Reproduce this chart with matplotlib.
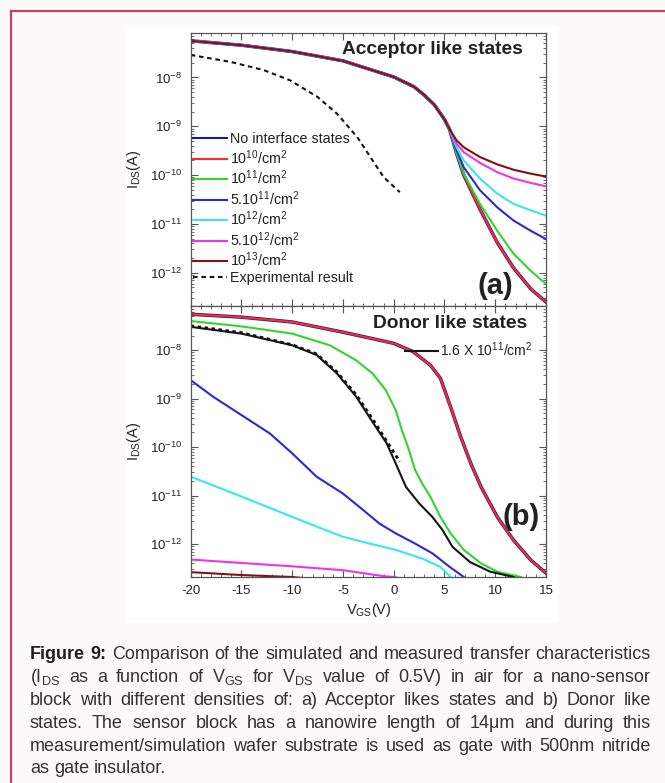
import numpy as np
import matplotlib
matplotlib.use('Agg')
import matplotlib.pyplot as plt
from matplotlib import font_manager
from matplotlib.lines import Line2D
from matplotlib.patches import Rectangle
from matplotlib.ticker import MultipleLocator, LogLocator, NullFormatter

# ---------------- data (log10 of I_DS in A) ----------------
# (a) acceptor-like states: common part, then individual tails
vgs_a_common = [-20, -15, -10, -5, 0, 2, 3, 4, 5, 5.5]
log_a_common = [-7.25, -7.34, -7.47, -7.66, -7.99, -8.19, -8.36, -8.56, -8.86, -9.06]
vgs_a_tail = [6.2, 6.9, 8.5, 10.2, 11.8, 13.5, 15]
log_a_none = [-9.56, -10.00, -10.70, -11.38, -11.90, -12.33, -12.60]
log_a_1e10 = [-9.56, -10.00, -10.70, -11.38, -11.90, -12.33, -12.60]
log_a_1e11 = [-9.55, -9.97, -10.59, -11.14, -11.61, -11.96, -12.23]
log_a_5e11 = [-9.49, -9.84, -10.31, -10.66, -10.93, -11.14, -11.31]
log_a_1e12 = [-9.43, -9.70, -10.07, -10.38, -10.59, -10.72, -10.83]
log_a_5e12 = [-9.36, -9.53, -9.75, -9.94, -10.07, -10.16, -10.23]
log_a_1e13 = [-9.29, -9.43, -9.63, -9.78, -9.89, -9.97, -10.03]
vgs_a_exp = [-20, -16.1, -12.8, -10.2, -7.5, -5.6, -3.6, -2.3, -1.0, 0.6]
log_a_exp = [-7.54, -7.68, -7.85, -8.06, -8.40, -8.74, -9.22, -9.63, -10.04, -10.35]

# (b) donor-like states
vgs_b_red = [-20, -15, -10, -5, 0, 1.9, 3.6, 4.6, 5.6, 6.6, 7.6, 8.6, 10.2, 11.8, 13.5, 15]
log_b_red = [-7.26, -7.32, -7.42, -7.63, -7.86, -8.03, -8.31, -8.58, -9.17, -9.79, -10.34,
             -10.82, -11.44, -11.92, -12.33, -12.60]
vgs_b_green = [-20, -15, -10, -6.3, -3.7, -2.1, -0.8, 0.2, 0.8, 1.5, 2.1, 2.8, 3.6, 4.6,
               5.6, 6.9, 8.6, 10.2, 12.5, 13.5]
log_b_green = [-7.40, -7.51, -7.66, -7.90, -8.21, -8.48, -8.82, -9.24, -9.65, -10.06, -10.47,
               -10.75, -11.02, -11.44, -11.78, -12.12, -12.40, -12.57, -12.68, -12.80]
vgs_b_black = [-20, -15, -10, -7.6, -5.6, -3.7, -2.0, -0.7, 0.2, 1.2, 2.5, 3.8, 4.8, 5.8,
               7.5, 9.5, 11.8, 12.5]
log_b_black = [-7.52, -7.66, -7.90, -8.10, -8.48, -8.96, -9.51, -9.92, -10.34, -10.82,
               -11.16, -11.44, -11.71, -12.06, -12.37, -12.57, -12.68, -12.75]
vgs_b_blue = [-20, -17.8, -15, -12.2, -10, -7.6, -5, -3, -1.4, 0.2, 2.1, 3.8, 5.5, 6.9, 7.5]
log_b_blue = [-8.62, -8.96, -9.34, -9.72, -10.13, -10.61, -10.96, -11.30, -11.58, -11.78,
              -11.99, -12.19, -12.47, -12.68, -12.80]
vgs_b_cyan = [-20, -15, -10, -7.6, -5, -2.4, 0.2, 2.8, 4.6, 5.6, 6.0]
log_b_cyan = [-10.61, -11.02, -11.44, -11.64, -11.85, -11.99, -12.12, -12.30, -12.47,
              -12.68, -12.80]
vgs_b_mag = [-20, -15, -10, -5, -1.1, 0, 1]
log_b_mag = [-12.32, -12.39, -12.46, -12.54, -12.66, -12.68, -12.72]
vgs_b_brown = [-20, -15, -10, -8]
log_b_brown = [-12.58, -12.64, -12.68, -12.72]
vgs_b_exp = [-20, -15, -10, -7.6, -5.6, -3.7, -2.0, -0.7, 0.6]
log_b_exp = [-7.50, -7.64, -7.89, -8.08, -8.45, -8.92, -9.45, -9.88, -10.30]

labels_a = ['No interface states', '$10^{10}$/cm$^{2}$', '$10^{11}$/cm$^{2}$',
            '5.$10^{11}$/cm$^{2}$', '$10^{12}$/cm$^{2}$', '5.$10^{12}$/cm$^{2}$',
            '$10^{13}$/cm$^{2}$', 'Experimental result']
label_b = '1.6 X $10^{11}$/cm$^{2}$'
xticks = [-20, -15, -10, -5, 0, 5, 10, 15]

caption = [
    "Figure 9: Comparison of the simulated and measured transfer characteristics",
    "(I$_{DS}$ as a function of V$_{GS}$ for V$_{DS}$ value of 0.5V) in air for a nano-sensor",
    "block with different densities of: a) Acceptor likes states and b) Donor like",
    "states. The sensor block has a nanowire length of 14\u03bcm and during this",
    "measurement/simulation wafer substrate is used as gate with 500nm nitride",
    "as gate insulator.",
]

# ---------------- styling ----------------
names = {f.name for f in font_manager.fontManager.ttflist}
BASE = 'Liberation Sans' if 'Liberation Sans' in names else 'DejaVu Sans'
NARROW = 'Liberation Sans Narrow' if 'Liberation Sans Narrow' in names else BASE
plt.rcParams['font.family'] = [BASE, 'DejaVu Sans']
plt.rcParams['mathtext.default'] = 'regular'
plt.rcParams['axes.unicode_minus'] = False

C_NAVY = '#1c1c8a'
C_RED = '#ff2b2b'
C_GREEN = '#2fd62f'
C_BLUE = '#2a2ad0'
C_CYAN = '#38e6f0'
C_MAG = '#ee32ee'
C_BROWN = '#7d1414'
C_BLACK = '#151515'
TXT = '#222222'
LW = 1.5

W, H = 665, 783
fig = plt.figure(figsize=(W / 100, H / 100), dpi=100, facecolor='#fcf9fa')

# frame lines and white chart panel
bc = '#c63d66'
fig.add_artist(Line2D([10.5 / W, 10.5 / W], [0, 1 - 10.5 / H], transform=fig.transFigure,
                      color=bc, lw=1.6))
fig.add_artist(Line2D([10.5 / W, 1], [1 - 10.5 / H, 1 - 10.5 / H], transform=fig.transFigure,
                      color=bc, lw=1.6))
fig.add_artist(Rectangle((126 / W, 1 - 623 / H), (558 - 126) / W, (623 - 27) / H,
                         transform=fig.transFigure, facecolor='white', edgecolor='none',
                         zorder=-5))

L = 190.7 / W
AW = (546 - 190.7) / W
axA = fig.add_axes([L, 1 - 306 / H, AW, (306 - 33) / H])
axB = fig.add_axes([L, 1 - 577 / H, AW, (577 - 306) / H])

ylo, yhi = 10 ** -12.68, 10 ** -7.09
for ax in (axA, axB):
    ax.set_yscale('log')
    ax.set_xlim(-20, 15)
    ax.set_ylim(ylo, yhi)
    ax.set_xticks(xticks)
    ax.xaxis.set_minor_locator(MultipleLocator(1))
    ax.yaxis.set_major_locator(LogLocator(base=10, numticks=30))
    ax.yaxis.set_minor_locator(LogLocator(base=10, subs=np.arange(2, 10), numticks=30))
    ax.yaxis.set_minor_formatter(NullFormatter())
    ax.tick_params(which='both', direction='in', top=True, right=True, color='#555555',
                   labelsize=9.5, labelcolor=TXT, pad=6)
    ax.tick_params(which='major', length=5, width=0.8)
    ax.tick_params(which='minor', length=2.5, width=0.6)
    for s in ax.spines.values():
        s.set_color('#555555')
        s.set_linewidth(0.9)
    ax.set_ylabel('I$_{DS}$(A)', fontsize=10.5, color=TXT)
    ax.yaxis.set_label_coords(-0.134, 0.5)
axA.tick_params(labelbottom=False)
axB.set_xlabel('V$_{GS}$(V)', fontsize=10.5, color=TXT)
axB.xaxis.set_label_coords(0.5, -0.09)

def p(v):
    return 10 ** np.asarray(v, dtype=float)

# ---- panel (a)
vA = vgs_a_common + vgs_a_tail
hexp, = axA.plot(vgs_a_exp, p(log_a_exp), color=C_BLACK, lw=LW, ls=(0, (2.2, 1.8)))
h0, = axA.plot(vA, p(log_a_common + log_a_none), color=C_NAVY, lw=LW + 1.0)
h1, = axA.plot(vA, p(log_a_common + log_a_1e10), color=C_RED, lw=LW)
h2, = axA.plot(vA, p(log_a_common + log_a_1e11), color=C_GREEN, lw=LW)
h3, = axA.plot(vA, p(log_a_common + log_a_5e11), color=C_BLUE, lw=LW)
h4, = axA.plot(vA, p(log_a_common + log_a_1e12), color=C_CYAN, lw=LW)
h5, = axA.plot(vA, p(log_a_common + log_a_5e12), color=C_MAG, lw=LW)
h6, = axA.plot(vA, p(log_a_common + log_a_1e13), color=C_BROWN, lw=LW)
hn = Line2D([], [], color=C_NAVY, lw=LW)
axA.legend([hn, h1, h2, h3, h4, h5, h6, hexp], labels_a, loc='upper left',
           bbox_to_anchor=(0.006, 0.636), frameon=False, fontsize=10.3, borderpad=0,
           borderaxespad=0, handlelength=2.4, handletextpad=0.22, labelspacing=0.13,
           labelcolor=TXT)
axA.text(0.935, 0.940, 'Acceptor like states', transform=axA.transAxes, ha='right',
         va='center', fontsize=13.8, fontweight='bold', color=TXT)
axA.text(0.9085, 0.072, '(a)', transform=axA.transAxes, ha='right', va='center',
         fontsize=21, fontweight='bold', color=TXT)

# ---- panel (b)
axB.plot(vgs_b_brown, p(log_b_brown), color=C_BROWN, lw=LW)
axB.plot(vgs_b_mag, p(log_b_mag), color=C_MAG, lw=LW)
axB.plot(vgs_b_cyan, p(log_b_cyan), color=C_CYAN, lw=LW)
axB.plot(vgs_b_blue, p(log_b_blue), color=C_BLUE, lw=LW)
axB.plot(vgs_b_red, p(log_b_red), color=C_NAVY, lw=LW + 1.0)
axB.plot(vgs_b_red, p(log_b_red), color=C_RED, lw=LW)
axB.plot(vgs_b_green, p(log_b_green), color=C_GREEN, lw=LW)
hb, = axB.plot(vgs_b_black, p(log_b_black), color=C_BLACK, lw=LW)
axB.plot(vgs_b_exp, p(log_b_exp), color=C_BLACK, lw=LW + 0.6, ls=(0, (1.2, 1.2)))
axB.legend([hb], [label_b], loc='center left', bbox_to_anchor=(0.603, 0.838),
           frameon=False, fontsize=10, borderpad=0, borderaxespad=0, handlelength=2.4,
           handletextpad=0.15, labelcolor=TXT)
axB.text(0.9457, 0.936, 'Donor like states', transform=axB.transAxes, ha='right',
         va='center', fontsize=13.8, fontweight='bold', color=TXT)
axB.text(0.983, 0.2196, '(b)', transform=axB.transAxes, ha='right', va='center',
         fontsize=21, fontweight='bold', color=TXT)

# ---------------- justified caption ----------------
fig.canvas.draw()
renderer = fig.canvas.get_renderer()
x0, x1 = 30.0, 651.0
baselines = [659, 682, 705, 728, 751, 773]
fam = [NARROW, 'DejaVu Sans']

def measure(s, size, bold=False):
    t = fig.text(0, 0, s, fontsize=size, family=fam, fontweight='bold' if bold else 'normal')
    w = t.get_window_extent(renderer).width
    t.remove()
    return w

# choose a caption size so that the widest full line fits with plain spacing
size0 = 12.0
sp0 = measure('a a', size0) - measure('aa', size0)
nat = []
for li, line in enumerate(caption[:-1]):
    ws = line.split(' ')
    tot = sum(measure(w, size0, bold=(li == 0 and wi < 2)) for wi, w in enumerate(ws))
    nat.append(tot + sp0 * (len(ws) - 1))
csize = size0 * (x1 - x0 - 4) / max(nat)
space_w = sp0 * csize / size0

for li, line in enumerate(caption):
    words = []
    for wi, w in enumerate(line.split(' ')):
        bold = (li == 0 and wi < 2)
        t = fig.text(0, 0, w, fontsize=csize, family=fam,
                     fontweight='bold' if bold else 'normal',
                     color='#1e1e1e' if bold else '#333333', va='baseline', ha='left')
        words.append(t)
    widths = [t.get_window_extent(renderer).width for t in words]
    n = len(words)
    if li == len(caption) - 1:
        gap = space_w
    else:
        gap = (x1 - x0 - sum(widths)) / (n - 1)
    x = x0
    for t, wdt in zip(words, widths):
        t.set_position((x / W, 1 - baselines[li] / H))
        x += wdt + gap

fig.savefig('out.png', dpi=100, facecolor=fig.get_facecolor())
